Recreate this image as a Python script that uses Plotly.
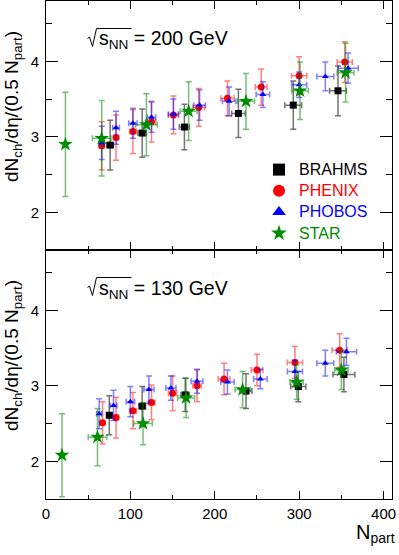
import plotly.graph_objects as go

# ---------------- data ----------------
# sqrt(sNN) = 200 GeV (top panel)
BRAHMS_200_x = [76, 114, 164, 228, 293, 346]
BRAHMS_200_y = [2.89, 3.05, 3.13, 3.31, 3.42, 3.61]
BRAHMS_200_ey = [0.33, 0.32, 0.30, 0.32, 0.32, 0.33]
BRAHMS_200_ex = [4, 5, 6, 8, 10, 10]

PHENIX_200_x = [66, 83, 103, 125, 151, 181, 215, 255, 300, 354]
PHENIX_200_y = [2.88, 2.99, 3.07, 3.20, 3.29, 3.39, 3.51, 3.66, 3.81, 3.99]
PHENIX_200_ey = [0.32, 0.30, 0.29, 0.27, 0.25, 0.25, 0.23, 0.24, 0.25, 0.27]
PHENIX_200_ex = [3, 3, 4, 5, 6, 7, 8, 7, 9, 9]

PHOBOS_200_x = [66, 83, 103, 125, 151, 182, 217, 257, 300, 331, 358]
PHOBOS_200_y = [2.92, 3.12, 3.18, 3.26, 3.30, 3.42, 3.47, 3.56, 3.69, 3.80, 3.91]
PHOBOS_200_ey = [0.22, 0.22, 0.20, 0.20, 0.20, 0.20, 0.19, 0.17, 0.17, 0.19, 0.20]
PHOBOS_200_ex = [3, 4, 5, 5, 6, 7, 8, 8, 9, 10, 12]

STAR_200_x = [23, 66, 119, 169, 237, 301, 355]
STAR_200_y = [2.90, 2.98, 3.16, 3.34, 3.47, 3.61, 3.85]
STAR_200_ey = [0.69, 0.50, 0.41, 0.39, 0.37, 0.38, 0.39]
STAR_200_ex = [2, 11, 13, 10, 10, 10, 10]

# sqrt(sNN) = 130 GeV (bottom panel)
BRAHMS_130_x = [75, 114, 165, 237, 299, 353]
BRAHMS_130_y = [2.61, 2.73, 2.88, 2.93, 2.99, 3.15]
BRAHMS_130_ey = [0.26, 0.26, 0.22, 0.23, 0.20, 0.23]
BRAHMS_130_ex = [3, 4, 5, 7, 9, 13]

PHENIX_130_x = [67, 83, 103, 125, 150, 179, 211, 250, 295, 348]
PHENIX_130_y = [2.51, 2.58, 2.67, 2.78, 2.90, 3.00, 3.09, 3.21, 3.31, 3.47]
PHENIX_130_ey = [0.28, 0.27, 0.24, 0.23, 0.23, 0.21, 0.21, 0.21, 0.21, 0.22]
PHENIX_130_ex = [3, 3, 4, 4, 5, 5, 7, 7, 9, 9]

PHOBOS_130_x = [63, 80, 100, 122, 148, 179, 215, 254, 295, 331, 356]
PHOBOS_130_y = [2.63, 2.74, 2.79, 2.95, 2.97, 3.06, 3.05, 3.09, 3.19, 3.30, 3.45]
PHOBOS_130_ey = [0.20, 0.20, 0.20, 0.18, 0.16, 0.16, 0.16, 0.13, 0.15, 0.17, 0.18]
PHOBOS_130_ex = [3, 4, 5, 6, 6, 7, 8, 8, 9, 10, 12]

STAR_130_x = [19, 61, 115, 166, 233, 297, 350]
STAR_130_y = [2.08, 2.32, 2.50, 2.84, 2.95, 3.05, 3.21]
STAR_130_ey = [0.55, 0.38, 0.28, 0.26, 0.24, 0.23, 0.26]
STAR_130_ex = [2, 11, 11, 10, 9, 8, 8]

X_TICKS = [0, 100, 200, 300, 400]
Y_TICKS = [2, 3, 4]
ENERGY_LABELS = ["200 GeV", "130 GeV"]

# ---------------- layout geometry ----------------
W, H = 399, 555
ML, MR, MT, MB = 46, 7, 1, 56
PW, PH = W - ML - MR, H - MT - MB
FONT = "Liberation Sans, Arial, Helvetica, sans-serif"


def fx(px):
    return (px - ML) / PW


def fy(py):
    return (H - MB - py) / PH


styles = {
    "BRAHMS": dict(color="#000000", err="rgba(0,0,0,0.55)", symbol="square", size=7),
    "PHENIX": dict(color="#ff0000", err="rgba(255,0,0,0.5)", symbol="circle", size=7),
    "PHOBOS": dict(color="#0000ff", err="rgba(0,0,255,0.5)", symbol="triangle-up", size=6),
    "STAR": dict(color="#008c00", err="rgba(0,140,0,0.55)", symbol="star", size=11),
}

panels = [
    ("x", "y", True, {
        "BRAHMS": (BRAHMS_200_x, BRAHMS_200_y, BRAHMS_200_ex, BRAHMS_200_ey),
        "PHENIX": (PHENIX_200_x, PHENIX_200_y, PHENIX_200_ex, PHENIX_200_ey),
        "PHOBOS": (PHOBOS_200_x, PHOBOS_200_y, PHOBOS_200_ex, PHOBOS_200_ey),
        "STAR": (STAR_200_x, STAR_200_y, STAR_200_ex, STAR_200_ey),
    }),
    ("x2", "y2", False, {
        "BRAHMS": (BRAHMS_130_x, BRAHMS_130_y, BRAHMS_130_ex, BRAHMS_130_ey),
        "PHENIX": (PHENIX_130_x, PHENIX_130_y, PHENIX_130_ex, PHENIX_130_ey),
        "PHOBOS": (PHOBOS_130_x, PHOBOS_130_y, PHOBOS_130_ex, PHOBOS_130_ey),
        "STAR": (STAR_130_x, STAR_130_y, STAR_130_ex, STAR_130_ey),
    }),
]

fig = go.Figure()
for xa, ya, show, series in panels:
    for name in ["BRAHMS", "PHENIX", "PHOBOS", "STAR"]:
        xs, ys, exs, eys = series[name]
        st = styles[name]
        fig.add_trace(go.Scatter(
            x=xs, y=ys, xaxis=xa, yaxis=ya, mode="markers",
            name=f"<span style='color:{st['color']};font-size:16px'>{name}</span>",
            showlegend=show,
            marker=dict(symbol=st["symbol"], size=st["size"], color=st["color"],
                        line=dict(width=0)),
            error_y=dict(type="data", array=eys, visible=True, color=st["err"],
                         thickness=1.5, width=3),
            error_x=dict(type="data", array=exs, visible=True, color=st["err"],
                         thickness=1.5, width=3),
            hoverinfo="skip",
        ))

axis_common = dict(
    range=[0, 410], showgrid=False, zeroline=False, showline=True, linecolor="#000",
    linewidth=1, mirror="allticks", ticks="inside", ticklen=8, tickcolor="#000",
    tickvals=X_TICKS, tickfont=dict(family=FONT, size=15, color="#000"),
    minor=dict(dtick=50, ticks="inside", ticklen=4, tickcolor="#000", showgrid=False),
)
yaxis_common = dict(
    range=[1.5, 4.8], showgrid=False, zeroline=False, showline=True, linecolor="#000",
    linewidth=1, mirror="allticks", ticks="inside", ticklen=12, tickcolor="#000",
    tickvals=Y_TICKS, tickfont=dict(family=FONT, size=15, color="#000"),
    minor=dict(dtick=0.5, ticks="inside", ticklen=6, tickcolor="#000", showgrid=False),
    ticklabelstandoff=3,
)

split = fy(250)
fig.update_layout(
    width=W, height=H, margin=dict(l=ML, r=MR, t=MT, b=MB),
    paper_bgcolor="white", plot_bgcolor="white",
    font=dict(family=FONT, color="#000"),
    xaxis=dict(axis_common, anchor="y", domain=[0, 1], showticklabels=False),
    xaxis2=dict(axis_common, anchor="y2", domain=[0, 1], ticklabelstandoff=1),
    yaxis=dict(yaxis_common, anchor="x", domain=[split, 1]),
    yaxis2=dict(yaxis_common, anchor="x2", domain=[0, split]),
    legend=dict(x=fx(259), y=fy(154), xanchor="left", yanchor="top",
                bgcolor="rgba(0,0,0,0)", font=dict(family=FONT, size=14),
                itemsizing="constant", tracegroupgap=0),
    showlegend=True,
)

annotations = []
shapes = []
for i, lab in enumerate(ENERGY_LABELS):
    off = 249 * i
    annotations.append(dict(
        x=fx(97), y=fy(40 + off), xref="paper", yref="paper", xanchor="left", yanchor="middle",
        text=f"s<sub>NN</sub> = {lab}", showarrow=False,
        font=dict(family=FONT, size=19.5, color="#000"),
    ))
    pts = [(87.5, 38.5 + off), (89.5, 37 + off), (92.5, 46.5 + off), (96.5, 28.5 + off), (131.5, 28.5 + off)]
    path = "M " + " L ".join(f"{fx(a):.5f},{fy(b):.5f}" for a, b in pts)
    shapes.append(dict(type="path", path=path, xref="paper", yref="paper",
                       line=dict(color="#000", width=1)))
    annotations.append(dict(
        x=fx(13), y=fy(107 + off), xref="paper", yref="paper", xanchor="center", yanchor="middle",
        text="dN<sub>ch</sub>/dη/(0.5 N<sub>part</sub>)", textangle=-90, showarrow=False,
        font=dict(family=FONT, size=19, color="#000"),
    ))

annotations.append(dict(
    x=fx(397), y=fy(533), xref="paper", yref="paper", xanchor="right", yanchor="middle",
    text="N<sub>part</sub>", showarrow=False, font=dict(family=FONT, size=20, color="#000"),
))
fig.update_layout(annotations=annotations, shapes=shapes)

fig.write_html(
    "out.html",
    config={"displayModeBar": False},
    post_script="document.body.style.margin='0';document.body.style.overflow='hidden';",
)
